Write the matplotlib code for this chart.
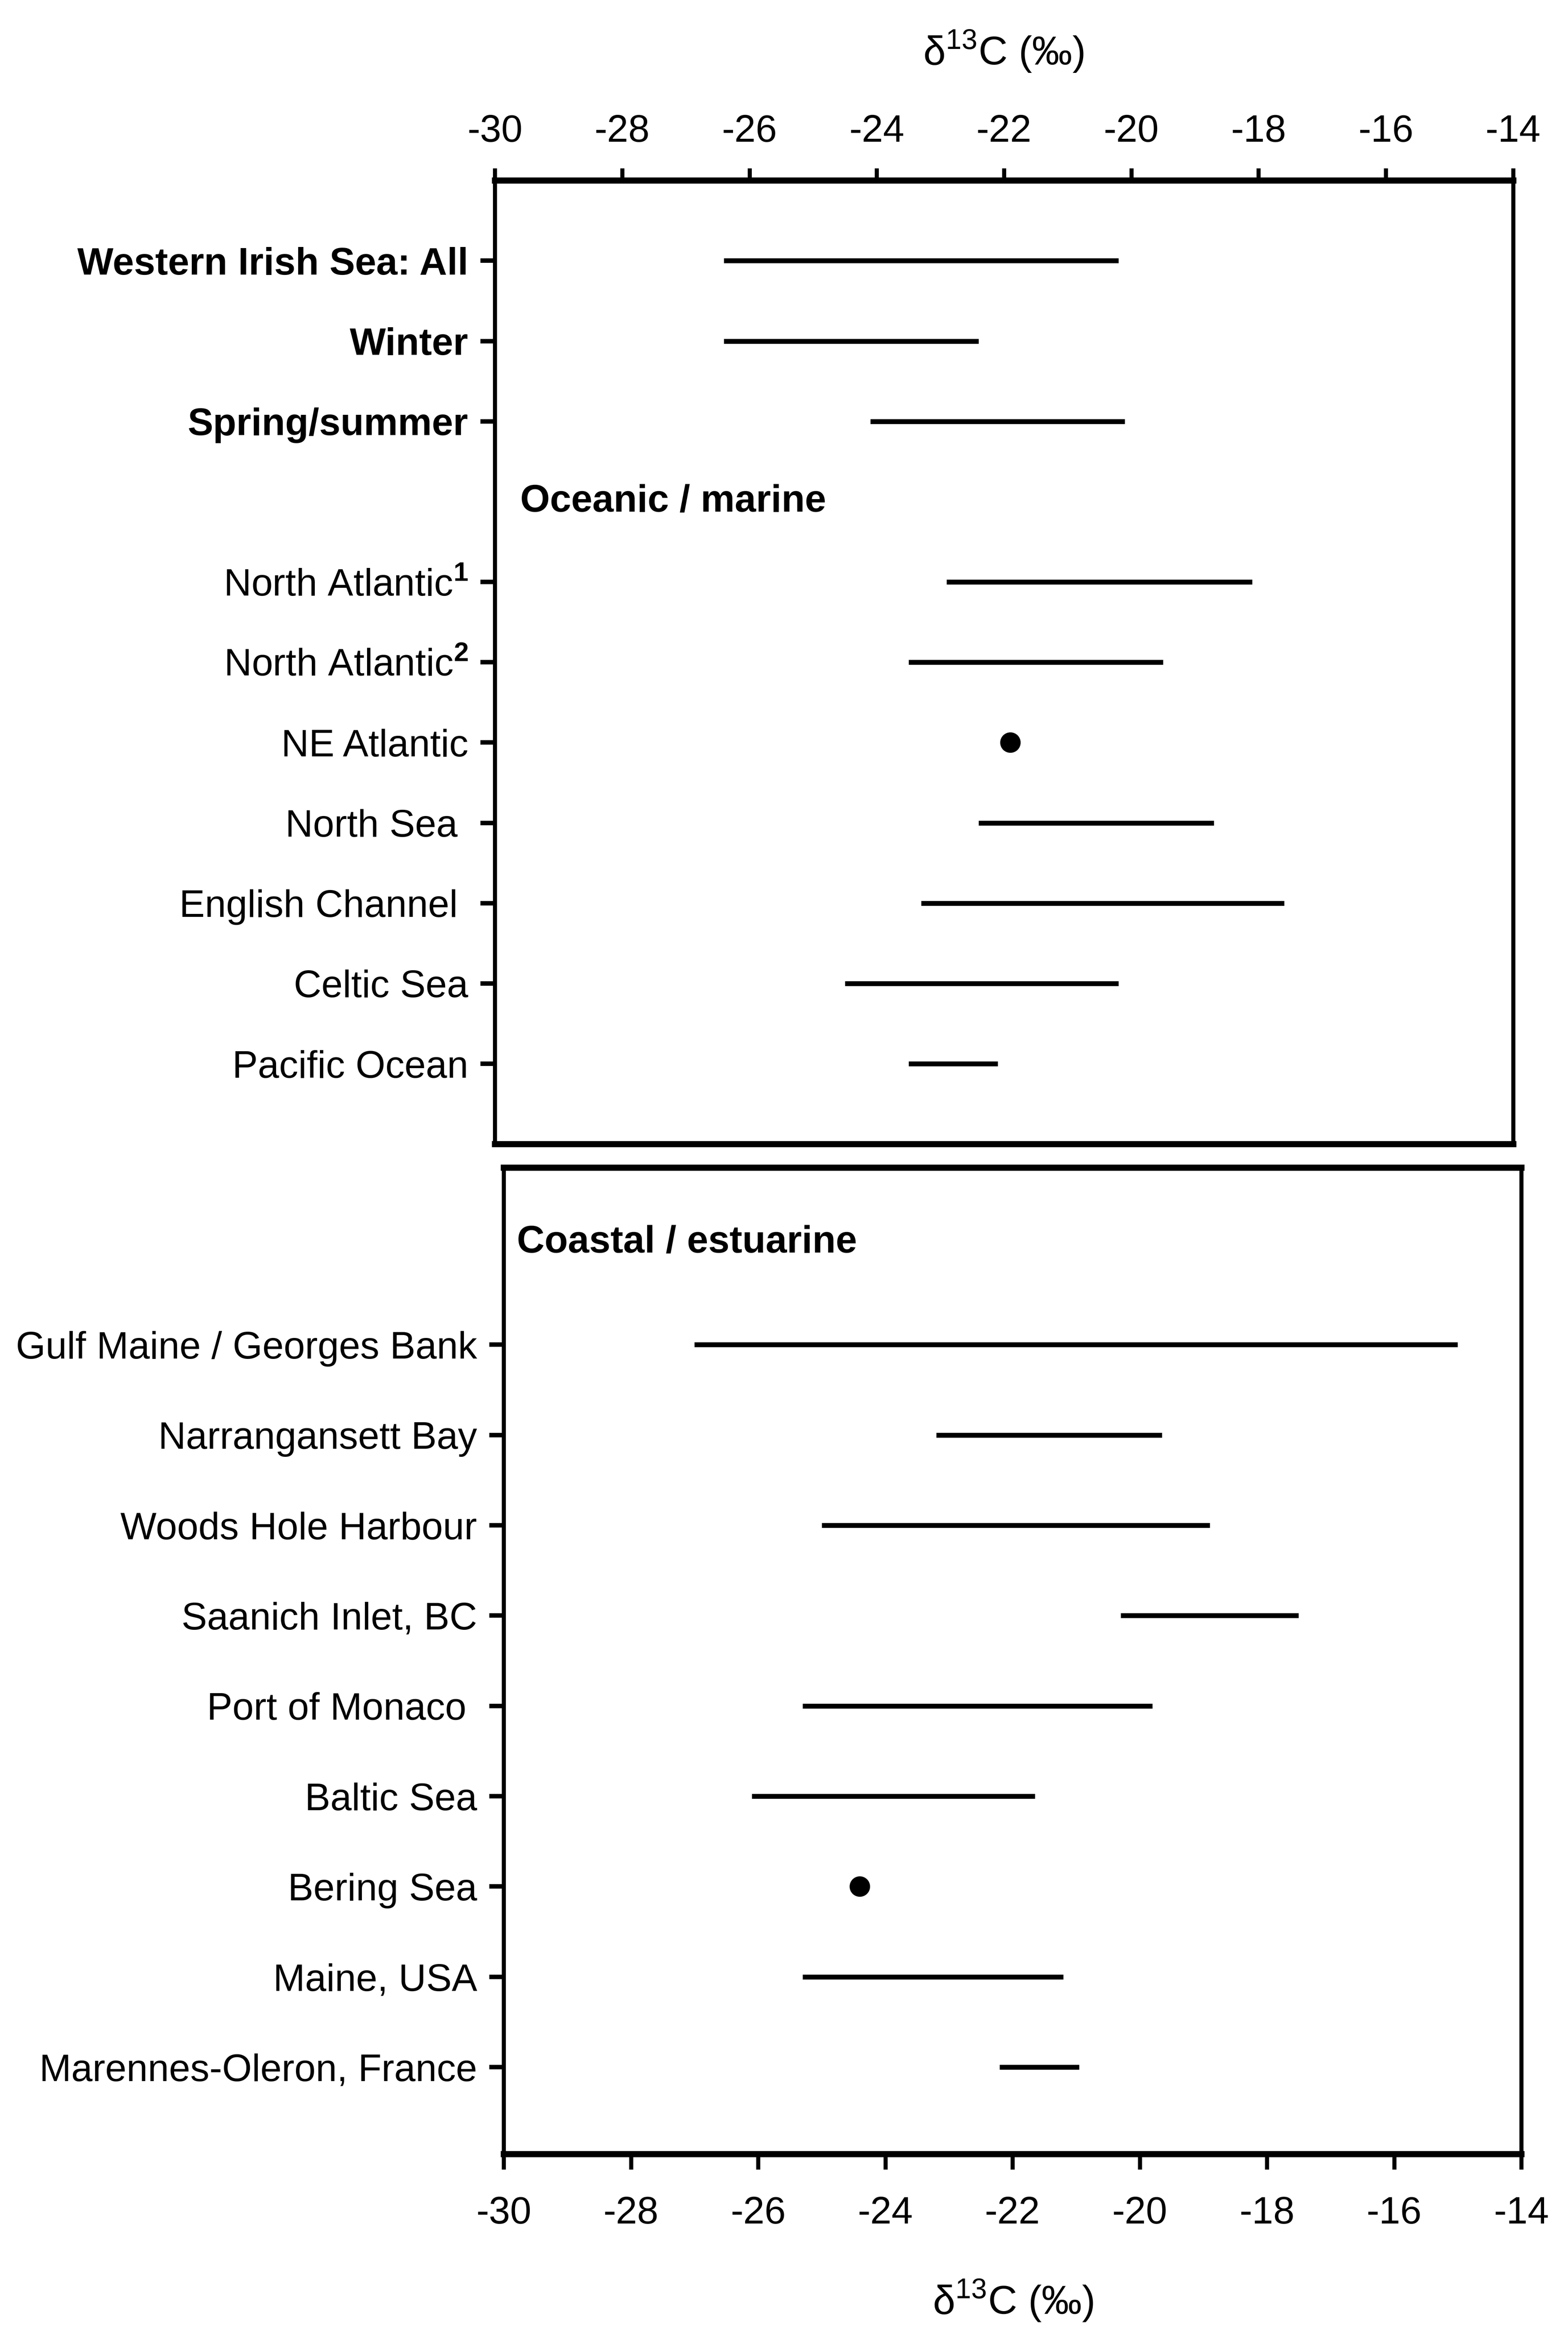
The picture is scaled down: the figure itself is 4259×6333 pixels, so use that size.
import matplotlib.pyplot as plt

plt.rcParams['font.family'] = ['Liberation Sans', 'DejaVu Sans']
plt.rcParams['mathtext.fontset'] = 'custom'
plt.rcParams['mathtext.rm'] = 'Liberation Sans'
plt.rcParams['mathtext.bf'] = 'Liberation Sans:bold'
plt.rcParams['axes.unicode_minus'] = False

# upper panel: Western Irish Sea and oceanic / marine sites
top_labels = ['Western Irish Sea: All', 'Winter', 'Spring/summer',
              'North Atlantic$^{\\mathbf{1}}$', 'North Atlantic$^{\\mathbf{2}}$',
              'NE Atlantic', 'North Sea ', 'English Channel ', 'Celtic Sea',
              'Pacific Ocean']
top_rows = [0, 1, 2, 4, 5, 6, 7, 8, 9, 10]
top_lo = [-26.4, -26.4, -24.1, -22.9, -23.5, -21.9, -22.4, -23.3, -24.5, -23.5]
top_hi = [-20.2, -22.4, -20.1, -18.1, -19.5, -21.9, -18.7, -17.6, -20.2, -22.1]
top_bold = [0, 1, 2]

# lower panel: coastal / estuarine sites
bot_labels = ['Gulf Maine / Georges Bank', 'Narrangansett Bay', 'Woods Hole Harbour',
              'Saanich Inlet, BC', 'Port of Monaco ', 'Baltic Sea', 'Bering Sea',
              'Maine, USA', 'Marennes-Oleron, France']
bot_rows = [0, 1, 2, 3, 4, 5, 6, 7, 8]
bot_lo = [-27.0, -23.2, -25.0, -20.3, -25.3, -26.1, -24.4, -25.3, -22.2]
bot_hi = [-15.0, -19.65, -18.9, -17.5, -19.8, -21.65, -24.4, -21.2, -20.95]

xticks = list(range(-30, -13, 2))
FS = 18.7


def draw_ranges(ax, rows, lo, hi):
    bars = [(r, a, b) for r, a, b in zip(rows, lo, hi) if a != b]
    dots = [(r, a) for r, a, b in zip(rows, lo, hi) if a == b]
    ax.hlines([b[0] for b in bars], [b[1] for b in bars], [b[2] for b in bars],
              color='black', lw=2.4)
    if dots:
        ax.plot([d[1] for d in dots], [d[0] for d in dots], 'o', color='black',
                ms=9)


def style(ax):
    ax.set_xlim(-30, -14)
    ax.set_xticks(xticks)
    for side in ('top', 'bottom'):
        ax.spines[side].set_linewidth(3)
    for side in ('left', 'right'):
        ax.spines[side].set_linewidth(2)
    ax.tick_params(axis='y', direction='out', length=7, width=2.2, pad=6,
                   labelsize=FS, right=False)


fig = plt.figure(figsize=(10.6475, 15.8325), dpi=400)

ax1 = fig.add_axes([0.3156, 0.5092, 0.6494, 0.4134])
draw_ranges(ax1, top_rows, top_lo, top_hi)
style(ax1)
ax1.set_ylim(11, -1)
ax1.set_yticks(top_rows)
ax1.set_yticklabels(top_labels)
for i in top_bold:
    ax1.get_yticklabels()[i].set_fontweight('bold')
ax1.xaxis.tick_top()
ax1.tick_params(axis='x', direction='out', length=6, width=2, pad=9,
                labelsize=FS, bottom=False)
ax1.text(-29.6, 3, 'Oceanic / marine', fontsize=FS, fontweight='bold',
         ha='left', va='center')

ax2 = fig.add_axes([0.3212, 0.0760, 0.6490, 0.4231])
draw_ranges(ax2, bot_rows, bot_lo, bot_hi)
style(ax2)
ax2.set_ylim(8.96, -1.96)
ax2.set_yticks(bot_rows)
ax2.set_yticklabels(bot_labels)
ax2.tick_params(axis='x', direction='out', length=7.6, width=2, pad=13,
                labelsize=FS, top=False)
ax2.text(-29.79, -1.13, 'Coastal / estuarine', fontsize=FS, fontweight='bold',
         ha='left', va='center')

xlabel = 'δ$^{13}$C (‰)'
fig.text(0.640, 0.978, xlabel, fontsize=FS + 1, ha='center', va='center')
fig.text(0.646, 0.013, xlabel, fontsize=FS + 1, ha='center', va='center')

fig.savefig('out.png', dpi=400, facecolor='white')
